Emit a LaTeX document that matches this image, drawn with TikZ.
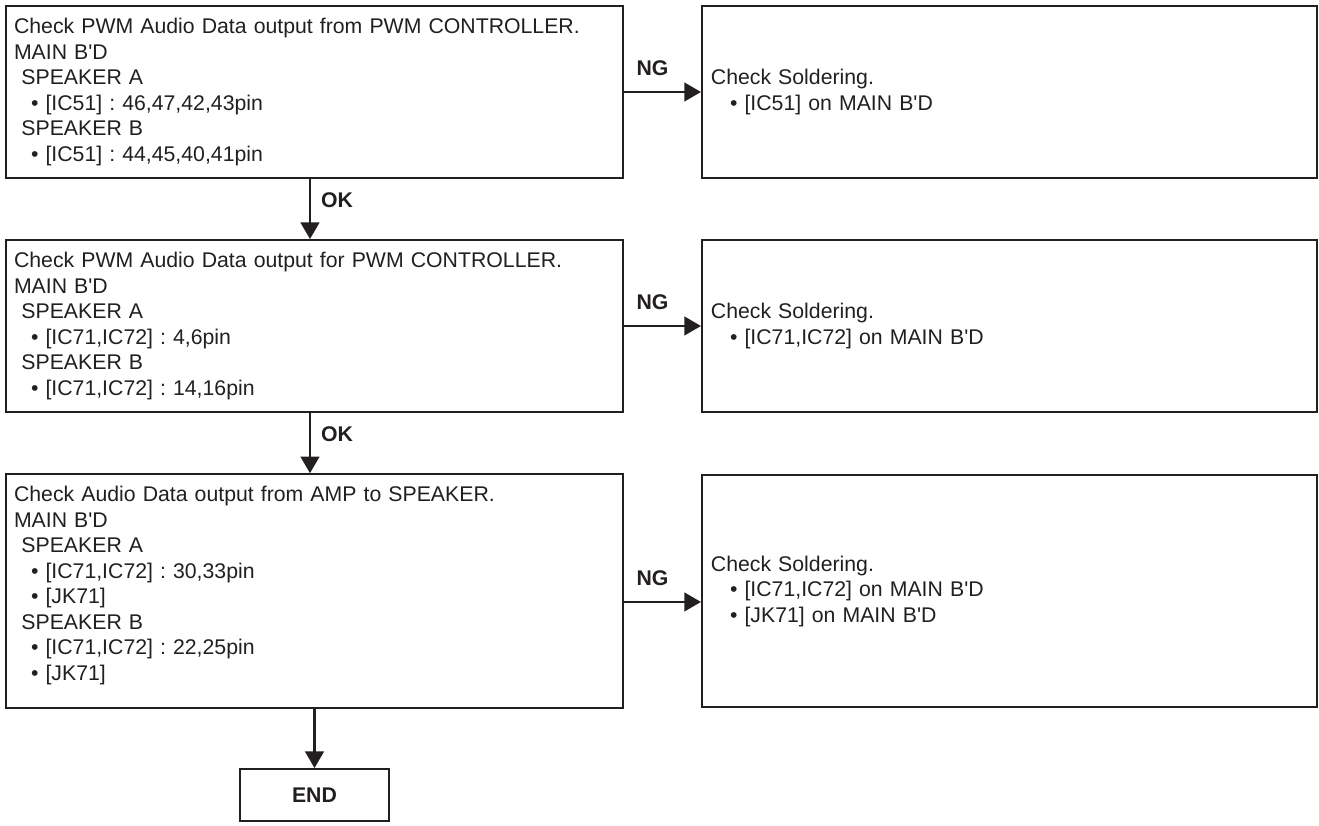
\documentclass[tikz,border=0pt]{standalone}
\usepackage{fontspec}
\setmainfont{Liberation Sans}[Ligatures=TeXOff]
\usepackage{tikz}
\usetikzlibrary{arrows.meta, positioning, calc}
\definecolor{ink}{HTML}{231F20}
\frenchspacing

\begin{document}
\begin{tikzpicture}[
    checkbox/.style={rectangle, draw=ink, line width=1.4pt, text=ink, align=left, inner ysep=9pt, font=\fontsize{16pt}{19.2pt}\selectfont},
    leftbox/.style={checkbox, text width=15.90cm, inner xsep=0.212cm, minimum height=4.551cm},
    fixbox/.style={checkbox, text width=15.80cm, inner xsep=0.238cm, minimum height=4.551cm},
    endbox/.style={rectangle, draw=ink, line width=1.4pt, text=ink, minimum width=3.942cm, minimum height=1.376cm, font=\fontsize{16pt}{19.2pt}\selectfont\bfseries},
    arrow/.style={-{Triangle[length=12.5pt, width=14pt]}, line width=1.8pt, draw=ink},
    tag/.style={font=\fontsize{16pt}{19.2pt}\selectfont\bfseries, text=ink, inner sep=0pt}
]
    \useasboundingbox (0,0) rectangle (34.898,-21.854);

    % check column
    \node[leftbox] (pwm-out) at (8.321,-2.434) {Check PWM Audio Data output from PWM CONTROLLER.\\
        MAIN B'D\\
        \hspace*{0.35em}SPEAKER A\\
        \hspace*{0.8em}• [IC51] : 46,47,42,43pin\\
        \hspace*{0.35em}SPEAKER B\\
        \hspace*{0.8em}• [IC51] : 44,45,40,41pin};
    \node[leftbox] (pwm-in) at (8.321,-8.625) {Check PWM Audio Data output for PWM CONTROLLER.\\
        MAIN B'D\\
        \hspace*{0.35em}SPEAKER A\\
        \hspace*{0.8em}• [IC71,IC72] : 4,6pin\\
        \hspace*{0.35em}SPEAKER B\\
        \hspace*{0.8em}• [IC71,IC72] : 14,16pin};
    \node[leftbox, minimum height=6.138cm] (amp-out) at (8.321,-15.637) {Check Audio Data output from AMP to SPEAKER.\\
        MAIN B'D\\
        \hspace*{0.35em}SPEAKER A\\
        \hspace*{0.8em}• [IC71,IC72] : 30,33pin\\
        \hspace*{0.8em}• [JK71]\\
        \hspace*{0.35em}SPEAKER B\\
        \hspace*{0.8em}• [IC71,IC72] : 22,25pin\\
        \hspace*{0.8em}• [JK71]\par\vspace*{8.6pt}};
    \node[endbox] (done) at (8.321,-21.034) {END};

    % soldering column
    \node[fixbox] (pwm-out-fix) at (26.709,-2.434) {Check Soldering.\\
        \hspace*{0.9em}• [IC51] on MAIN B'D};
    \node[fixbox] (pwm-in-fix) at (26.709,-8.625) {Check Soldering.\\
        \hspace*{0.9em}• [IC71,IC72] on MAIN B'D};
    \node[fixbox, minimum height=6.138cm] (amp-out-fix) at (26.709,-15.637) {Check Soldering.\\
        \hspace*{0.9em}• [IC71,IC72] on MAIN B'D\\
        \hspace*{0.9em}• [JK71] on MAIN B'D};

    % NG branches
    \draw[arrow] (pwm-out) -- node[tag, anchor=south, xshift=-7.5pt, yshift=11pt] (ng1) {NG} (pwm-out-fix);
    \draw[arrow] (pwm-in) -- node[tag, anchor=south, xshift=-7.5pt, yshift=11pt] (ng2) {NG} (pwm-in-fix);
    \draw[arrow] ([yshift=-8.25pt]amp-out.east) -- node[tag, anchor=south, xshift=-7.5pt, yshift=11pt] (ng3) {NG} ([yshift=-8.25pt]amp-out-fix.west);

    % OK path
    \draw[arrow] ([xshift=-3.4pt]pwm-out.south) -- node[tag, anchor=south west, xshift=7.5pt] (ok1) {OK} ([xshift=-3.4pt]pwm-in.north);
    \draw[arrow] ([xshift=-3.4pt]pwm-in.south) -- node[tag, anchor=south west, xshift=7.5pt] (ok2) {OK} ([xshift=-3.4pt]amp-out.north);
    \draw[arrow] (amp-out) -- (done);
\end{tikzpicture}
\end{document}
